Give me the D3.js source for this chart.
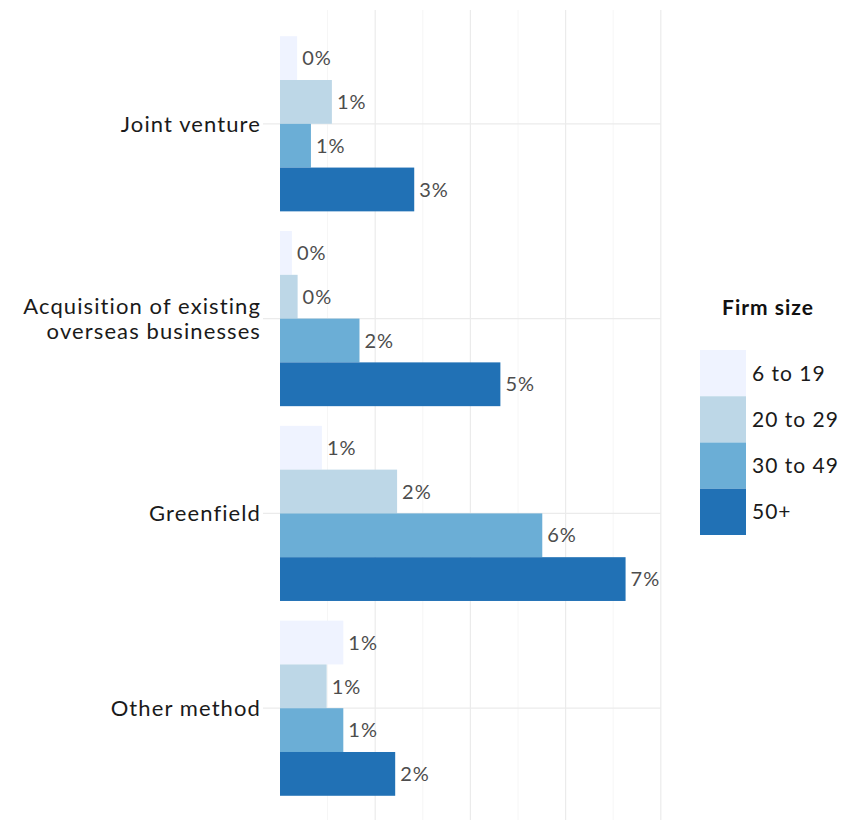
<!DOCTYPE html>
<html>
<head>
<meta charset="utf-8">
<script src="https://cdn.jsdelivr.net/npm/d3@7"></script>
<style>
  html, body { margin: 0; padding: 0; background: #ffffff; }
  svg { display: block; font-family: "Lato", "Open Sans", sans-serif; }
</style>
</head>
<body>
<svg id="chart" width="854" height="820"></svg>
<script>
// ---- data ----
const categories = ["Joint venture", "Acquisition of existing\noverseas businesses", "Greenfield", "Other method"];
const firmSizes = ["6 to 19", "20 to 29", "30 to 49", "50+"];
const size6to19  = [0.36, 0.25, 0.88, 1.33];
const size20to29 = [1.09, 0.37, 2.46, 0.98];
const size30to49 = [0.65, 1.67, 5.51, 1.33];
const size50plus = [2.82, 4.63, 7.26, 2.42];
const seriesValues = [size6to19, size20to29, size30to49, size50plus];
const colors = ["#eff3ff", "#bdd7e7", "#6baed6", "#2171b5"];
const majorTicks = [2, 4, 6, 8];
const minorTicks = [1, 3, 5, 7];
const legendTitle = "Firm size";

const rows = [];
categories.forEach((c, i) => {
  firmSizes.forEach((s, j) => rows.push({ cat: c, size: s, value: seriesValues[j][i], color: colors[j] }));
});

const svg = d3.select("#chart");

const x = d3.scaleLinear().domain([0, 8]).range([280, 660.8]);
const y = d3.scaleBand().domain(categories).range([7, 825]).paddingInner(0.101).paddingOuter(0.15);
const y1 = d3.scaleBand().domain(firmSizes).range([0, y.bandwidth()]).padding(0);

// ---- grid ----
const grid = svg.append("g");
grid.selectAll("line.minor").data(minorTicks).join("line")
  .attr("x1", d => x(d)).attr("x2", d => x(d))
  .attr("y1", 10).attr("y2", 820)
  .attr("stroke", "#f6f6f6").attr("stroke-width", 1);
grid.selectAll("line.major").data(majorTicks).join("line")
  .attr("x1", d => x(d)).attr("x2", d => x(d))
  .attr("y1", 10).attr("y2", 820)
  .attr("stroke", "#ebebeb").attr("stroke-width", 1.2);
grid.selectAll("line.h").data(categories).join("line")
  .attr("x1", 263).attr("x2", x(8))
  .attr("y1", d => y(d) + y.bandwidth() / 2).attr("y2", d => y(d) + y.bandwidth() / 2)
  .attr("stroke", "#ebebeb").attr("stroke-width", 1.2);

// ---- bars ----
svg.append("g").selectAll("rect").data(rows).join("rect")
  .attr("x", x(0))
  .attr("y", d => y(d.cat) + y1(d.size))
  .attr("width", d => x(d.value) - x(0))
  .attr("height", y1.bandwidth())
  .attr("fill", d => d.color);

// ---- value labels ----
svg.append("g").selectAll("text").data(rows).join("text")
  .attr("x", d => x(d.value) + 5)
  .attr("y", d => y(d.cat) + y1(d.size) + y1.bandwidth() / 2)
  .attr("dy", "0.36em")
  .attr("font-size", 20)
  .attr("letter-spacing", 1)
  .attr("fill", "#4d4d4d")
  .text(d => Math.round(d.value) + "%");

// ---- category labels ----
const catG = svg.append("g");
categories.forEach(c => {
  const lines = c.split("\n");
  const cy = y(c) + y.bandwidth() / 2;
  const lh = 25;
  const t = catG.append("text")
    .attr("text-anchor", "end")
    .attr("font-size", 22)
    .attr("letter-spacing", 1.1)
    .attr("fill", "#1a1a1a");
  lines.forEach((l, k) => {
    t.append("tspan")
      .attr("x", 261)
      .attr("y", cy + (k - (lines.length - 1) / 2) * lh)
      .attr("dy", "0.36em")
      .text(l);
  });
});

// ---- legend ----
const lg = svg.append("g");
lg.append("text")
  .attr("x", 768).attr("y", 307).attr("dy", "0.36em")
  .attr("text-anchor", "middle")
  .attr("font-size", 21).attr("font-weight", "bold").attr("letter-spacing", 1).attr("fill", "#111")
  .text(legendTitle);
const keyY = d3.scaleBand().domain(firmSizes).range([350, 535]);
lg.selectAll("rect").data(firmSizes).join("rect")
  .attr("x", 700).attr("y", d => keyY(d))
  .attr("width", 46).attr("height", keyY.bandwidth())
  .attr("fill", (d, i) => colors[i]);
lg.selectAll("text.lab").data(firmSizes).join("text")
  .attr("class", "lab")
  .attr("x", 752).attr("y", d => keyY(d) + keyY.bandwidth() / 2)
  .attr("dy", "0.36em")
  .attr("font-size", 21).attr("letter-spacing", 1).attr("fill", "#1a1a1a")
  .text(d => d);
</script>
</body>
</html>
